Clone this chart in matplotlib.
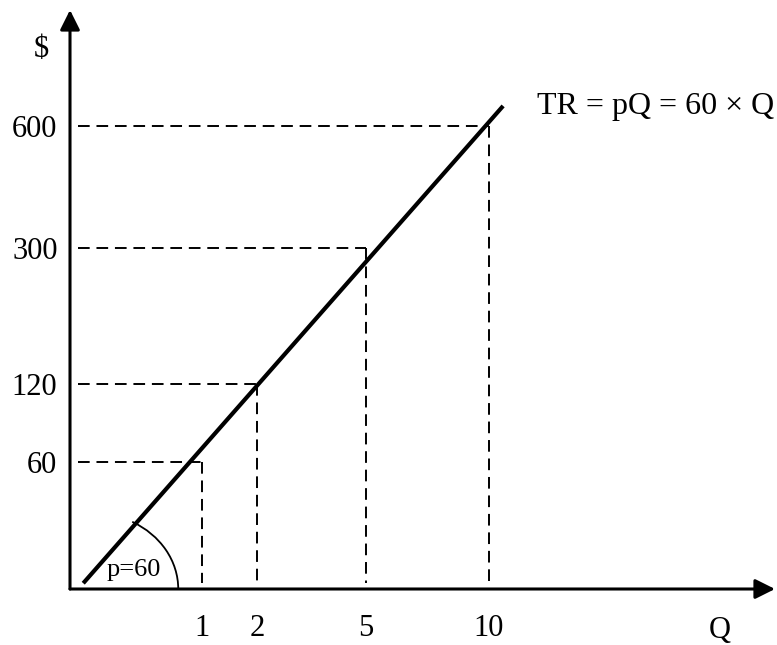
import numpy as np
import matplotlib
matplotlib.use("Agg")
import matplotlib.pyplot as plt
from matplotlib.patches import Arc
from matplotlib.transforms import IdentityTransform

plt.rcParams['font.family'] = ['Liberation Serif', 'DejaVu Serif']

# quantities and revenues marked on the diagram
q_marks = [1, 2, 5, 10]
tr_marks = [60, 120, 300, 600]
q_labels = ["1", "2", "5", "10"]
tr_labels = ["60", "120", "300", "600"]

# TR = 60 x Q, drawn between its two ends (hand-drawn diagram, not to scale)
q_line = [0.01, 10.7]
tr_line = [2, 670]

fig = plt.figure(figsize=(7.77, 6.45), dpi=100)
ax = fig.add_axes([70 / 777, 56 / 645, 705 / 777, 579 / 645])

# schematic (not to scale) axes
ax.set_xscale('function', functions=(lambda q: np.sqrt(np.clip(q, 0, None)), lambda s: s ** 2))
ax.set_yscale('function', functions=(lambda t: np.log1p(np.clip(t, 0, None) / 70),
                                     lambda s: 70 * np.expm1(s)))
ax.set_xlim(0, 28.35)
ax.set_ylim(0, 1112)

for s in ax.spines.values():
    s.set_visible(False)

arrow = dict(arrowstyle='-|>,head_length=0.6,head_width=0.3', mutation_scale=20,
             lw=2.2, color='black', shrinkA=0, shrinkB=0)
ax.annotate('', xy=(1, 0), xytext=(0, 0), xycoords='axes fraction', arrowprops=arrow)
ax.annotate('', xy=(0, 1), xytext=(0, 0), xycoords='axes fraction', arrowprops=arrow)

ax.plot(q_line, tr_line, color='black', lw=3, solid_capstyle='butt')

dash = dict(color='black', lw=1.4, dashes=(6, 3.5))
for q, tr in zip(q_marks, tr_marks):
    ax.plot([0.004, q], [tr, tr], **dash)
    ax.plot([q, q], [tr, 2], **dash)

ax.set_xticks(q_marks)
ax.set_xticklabels(q_labels, fontsize=22)
ax.set_yticks(tr_marks)
ax.set_yticklabels(tr_labels, fontsize=22)
ax.tick_params(which='both', length=0)
ax.tick_params(axis='x', pad=18)
ax.tick_params(axis='y', pad=9)
ax.minorticks_off()

ax.text(0.922, -0.071, "Q", transform=ax.transAxes, fontsize=22, ha='center', va='center')
ax.text(-0.04, 0.931, "$", transform=ax.transAxes, fontsize=22, ha='center', va='center')
ax.text(0.662, 0.834, "TR = pQ = 60 × Q", transform=ax.transAxes, fontsize=23,
        ha='left', va='center')
ax.text(0.091, 0.033, "p=60", transform=ax.transAxes, fontsize=19, ha='center', va='center')

# angle mark at the start of the line
fig.canvas.draw()
cx, cy = ax.transData.transform((q_line[0], 0))
ax.add_patch(Arc((cx + 7, cy), 176, 153, theta1=0, theta2=58, lw=1.3, color='black',
                 transform=IdentityTransform(), clip_on=False))

fig.savefig("out.png", dpi=100)
